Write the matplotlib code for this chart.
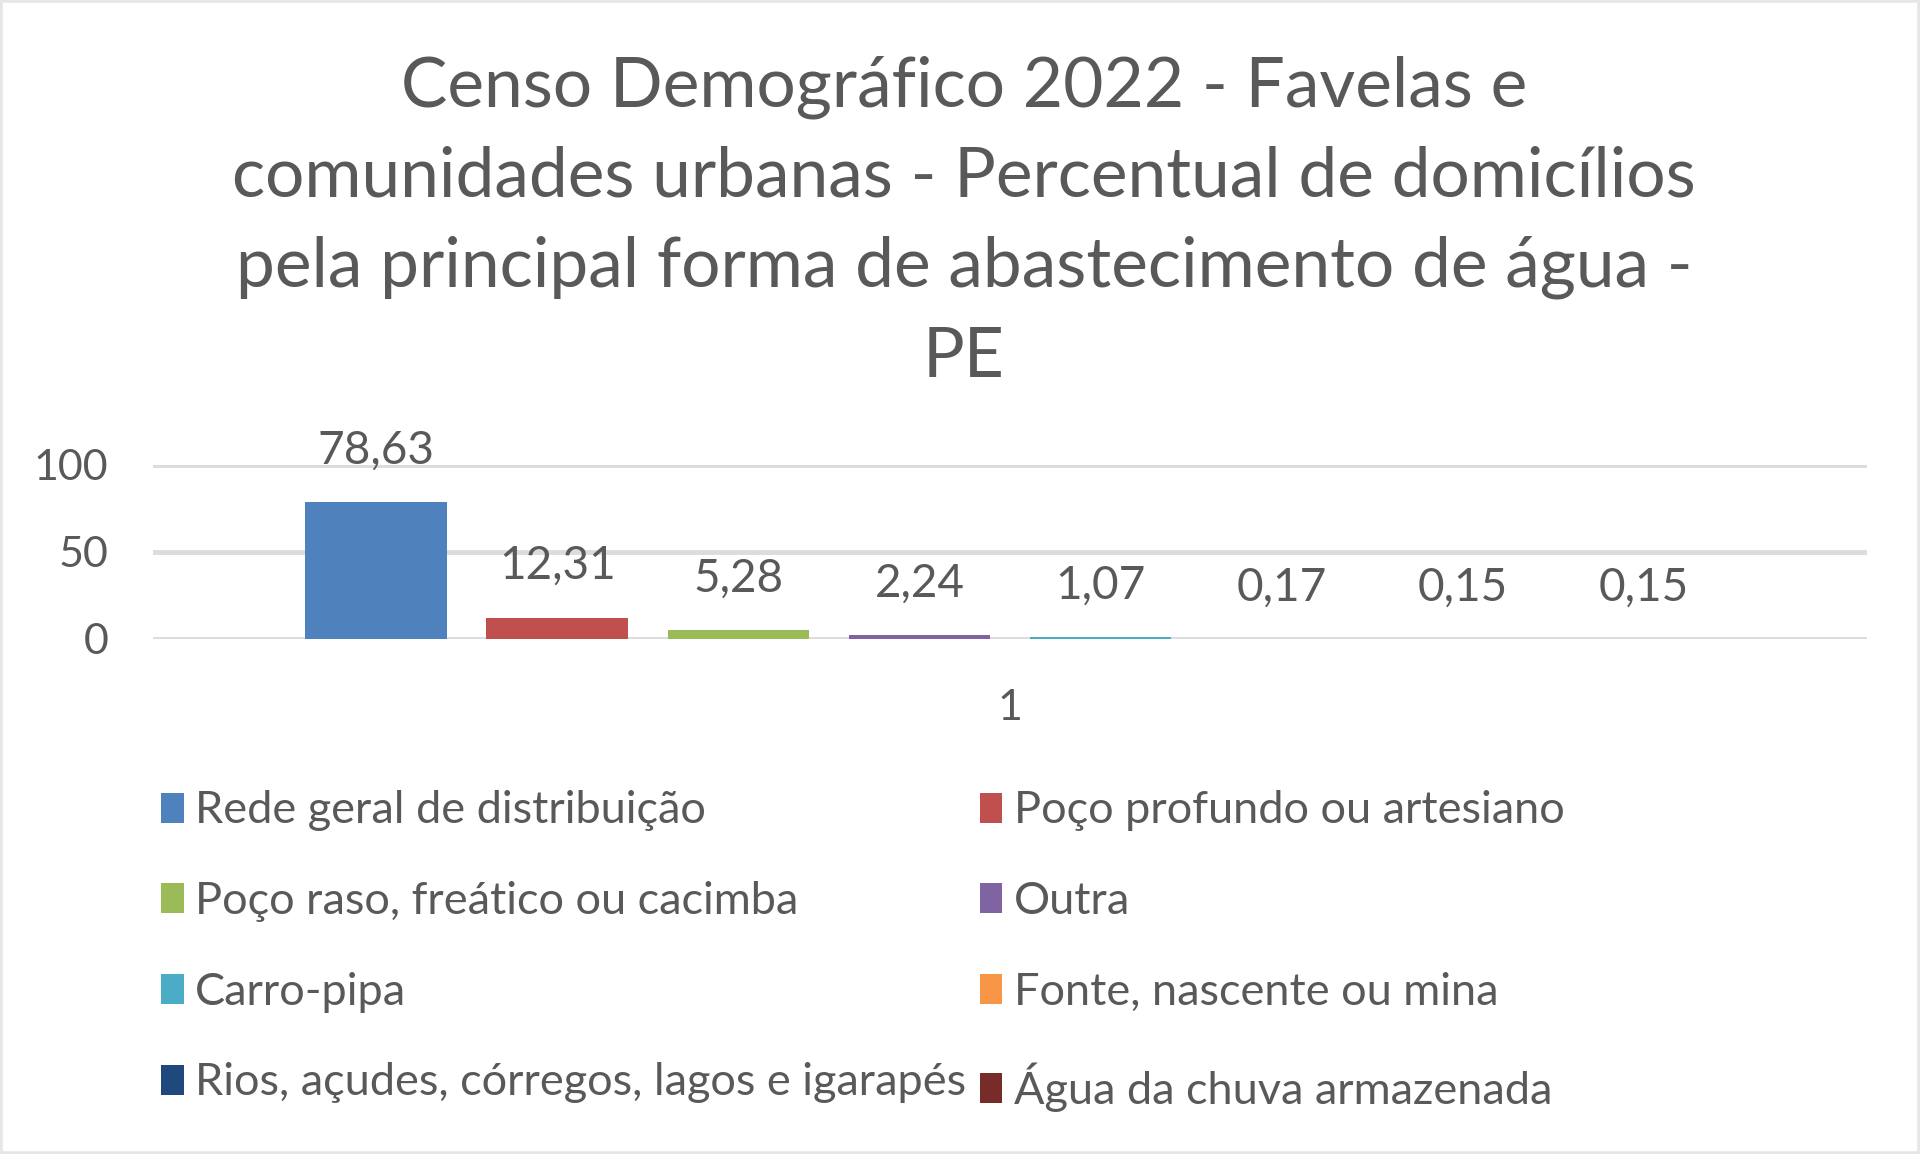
import numpy as np
import matplotlib
matplotlib.use('Agg')
import matplotlib.pyplot as plt

plt.rcParams['font.family'] = ['Lato', 'DejaVu Sans']

# data
categories = ['1']
series_names = ['Rede geral de distribuição', 'Poço profundo ou artesiano',
                'Poço raso, freático ou cacimba', 'Outra',
                'Carro-pipa', 'Fonte, nascente ou mina',
                'Rios, açudes, córregos, lagos e igarapés', 'Água da chuva armazenada']
values = [78.63, 12.31, 5.28, 2.24, 1.07, 0.17, 0.15, 0.15]
value_labels = ['78,63', '12,31', '5,28', '2,24', '1,07', '0,17', '0,15', '0,15']
colors = ['#4F81BD', '#C0504D', '#9BBB59', '#8064A2',
          '#4BACC6', '#F79646', '#1F497D', '#772C2A']
yticks = [0, 50, 100]

title = ('Censo Demográfico 2022 - Favelas e\n'
         'comunidades urbanas - Percentual de domicílios\n'
         'pela principal forma de abastecimento de água -\n'
         'PE')

txt = '#595959'

fig = plt.figure(figsize=(19.2, 11.54), dpi=100)
ax = fig.add_axes([0.0797, 0.4463, 0.8927, 0.1508])

n = len(values)
slot = 0.1057
handles = []
for i, (v, c, lab) in enumerate(zip(values, colors, value_labels)):
    x = (i - (n - 1) / 2) * slot
    b = ax.bar(x, v, width=slot * 0.78, color=c, zorder=3, label=series_names[i])
    handles.append(b)
    ax.annotate(lab, (x, v), xytext=(0, 37), textcoords='offset points',
                ha='center', va='center', fontsize=33, color=txt,
                annotation_clip=False)

ax.set_xlim(-0.5, 0.5)
ax.set_ylim(0, 100)
ax.set_yticks(yticks)
ax.set_xticks([0])
ax.set_xticklabels(categories)
for s in ax.spines.values():
    s.set_visible(False)
ax.grid(axis='y', color='#dcdcdc', linewidth=3.5, zorder=0)
ax.set_axisbelow(True)
ax.tick_params(axis='y', length=0, pad=32, labelsize=31, labelcolor=txt)
ax.tick_params(axis='x', length=0, pad=36, labelsize=31, labelcolor=txt)

fig.text(0.502, 0.952, title, ha='center', va='top', fontsize=50,
         color=txt, linespacing=1.53)

order = [0, 2, 4, 6, 1, 3, 5, 7]
fig.legend([handles[k] for k in order], [series_names[k] for k in order],
           ncol=2, loc='upper left', bbox_to_anchor=(0.084, 0.315),
           frameon=False, fontsize=32.5, labelcolor=txt,
           handlelength=0.5, handleheight=0.65, handletextpad=0.25,
           columnspacing=0.3, labelspacing=1.1, borderpad=0, borderaxespad=0)

fig.patches.append(plt.Rectangle((0, 0), 1, 1, transform=fig.transFigure,
                                 fill=False, edgecolor='#e6e6e6', linewidth=4))

fig.savefig('out.png', dpi=100)
